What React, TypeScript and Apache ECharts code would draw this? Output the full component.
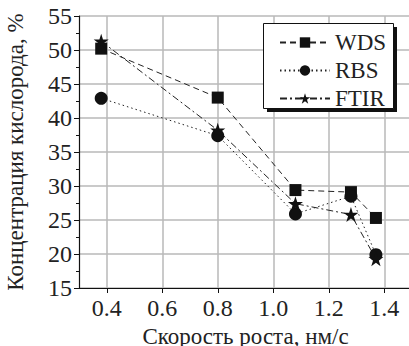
import React, { useEffect, useRef } from "react";
import * as echarts from "echarts";

const xValues = [0.38, 0.8, 1.08, 1.28, 1.37];
const wdsValues = [50.2, 43.0, 29.4, 29.1, 25.3];
const rbsValues = [42.9, 37.4, 25.9, 28.5, 19.9];
const ftirValues = [51.3, 38.2, 27.4, 25.8, 19.3];
const seriesNames = ["WDS", "RBS", "FTIR"];
const xTicks = [0.4, 0.6, 0.8, 1.0, 1.2, 1.4];

const STAR =
  "path://M50,0 L61.8,35.1 L98.9,35.1 L68.9,56.8 L80.3,91.9 L50,70.2 L19.7,91.9 L31.1,56.8 L1.1,35.1 L38.2,35.1 Z";

const FONT = "Liberation Serif";

export default function App() {
  const ref = useRef<HTMLDivElement>(null);
  useEffect(() => {
    const chart = echarts.init(ref.current!, null, { renderer: "svg" });
    const pts = (ys: number[]) => xValues.map((x, i) => [x, ys[i]]);
    chart.setOption({
      animation: false,
      backgroundColor: "#fff",
      grid: { left: 79, top: 16, width: 333, bottom: 58, containLabel: false, outerBoundsMode: "none" },
      xAxis: {
        type: "value",
        min: 0.3,
        max: 1.5,
        interval: 0.1,
        name: "Скорость роста, нм/с",
        nameLocation: "middle",
        nameGap: 30,
        nameTextStyle: { fontFamily: FONT, fontSize: 23, color: "#222" },
        axisLine: { lineStyle: { color: "#111", width: 1.2 } },
        axisTick: { length: 5, customValues: xTicks, lineStyle: { color: "#111" } },
        axisLabel: {
          customValues: xTicks,
          fontFamily: FONT,
          fontSize: 24,
          color: "#222",
          margin: 8,
          formatter: (v: number) => v.toFixed(1),
        },
        splitLine: { show: true, lineStyle: { color: "#b8b8b8", width: 1.5 } },
      },
      yAxis: {
        type: "value",
        min: 15,
        max: 55,
        interval: 5,
        name: "Концентрация кислорода, %",
        nameLocation: "middle",
        nameGap: 52,
        nameTextStyle: { fontFamily: FONT, fontSize: 23, color: "#222" },
        axisLine: { show: true, lineStyle: { color: "#111", width: 1.2 } },
        axisTick: { show: true, length: 5, lineStyle: { color: "#111" } },
        minorTick: { show: true, splitNumber: 2, length: 3, lineStyle: { color: "#111" } },
        axisLabel: { fontFamily: FONT, fontSize: 24, color: "#222", margin: 7 },
        splitLine: { show: true, lineStyle: { color: "#b8b8b8", width: 1.5 } },
      },
      legend: {
        orient: "vertical",
        left: 279,
        top: 31,
        z: 6,
        padding: 0,
        itemGap: 5,
        itemWidth: 50,
        itemHeight: 13,
        textStyle: { fontFamily: FONT, fontSize: 23, color: "#222" },
        data: seriesNames,
      },
      graphic: [
        {
          type: "rect",
          z: 4,
          left: 267,
          top: 27,
          shape: { width: 130, height: 85 },
          style: { fill: "#111" },
        },
        {
          type: "rect",
          z: 5,
          left: 263,
          top: 23,
          shape: { width: 130, height: 85 },
          style: { fill: "#fff", stroke: "#111", lineWidth: 1 },
        },
      ],
      series: [
        {
          name: seriesNames[0],
          type: "line",
          data: pts(wdsValues),
          symbol: "rect",
          symbolSize: 12,
          itemStyle: { color: "#111" },
          lineStyle: { color: "#222", width: 1, type: [6, 4] },
          z: 3,
        },
        {
          name: seriesNames[1],
          type: "line",
          data: pts(rbsValues),
          symbol: "circle",
          symbolSize: 13,
          itemStyle: { color: "#111" },
          lineStyle: { color: "#222", width: 1, type: [1.5, 3] },
          z: 3,
        },
        {
          name: seriesNames[2],
          type: "line",
          data: pts(ftirValues),
          symbol: STAR,
          symbolSize: 15,
          itemStyle: { color: "#111" },
          lineStyle: { color: "#222", width: 1, type: [7, 3, 2, 3] },
          z: 3,
        },
      ],
    });
    return () => chart.dispose();
  }, []);
  return <div ref={ref} style={{ width: 409, height: 346, position: "absolute", left: 0, top: 0 }} />;
}
